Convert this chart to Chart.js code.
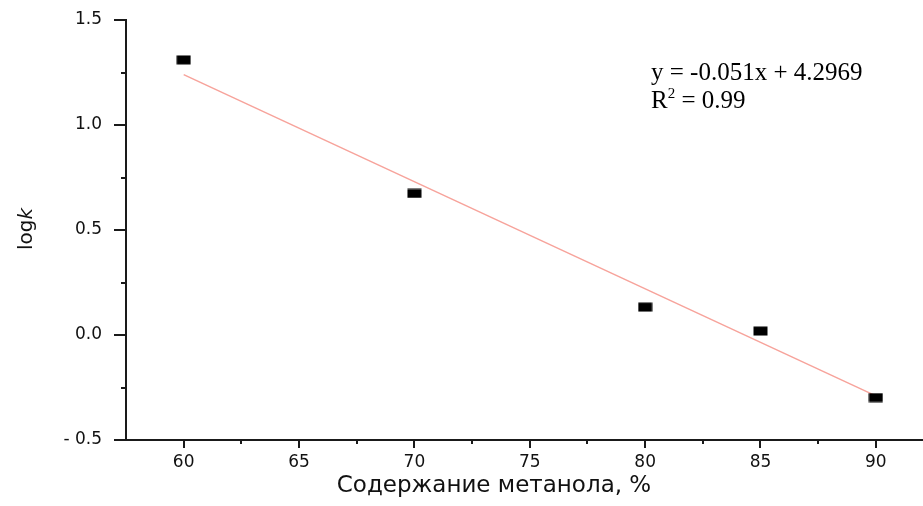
<!DOCTYPE html>
<html lang="ru">
<head>
    <meta charset="UTF-8">
    <title>logk vs methanol</title>
    <script src="https://cdn.jsdelivr.net/npm/chart.js"></script>
    <style>
        html, body { margin: 0; padding: 0; background: #fff; overflow: hidden; }
        #logkChart { display: block; }
    </style>
</head>
<body>
    <canvas id="logkChart" width="923" height="506"></canvas>

    <script>
    // measured points
    const methanol = [60, 70, 80, 85, 90];
    const logk = [1.31, 0.674, 0.133, 0.019, -0.298];

    // linear fit line, ends
    const fitX = [60, 90];
    const fitY = [1.24, -0.29];

    const xMajorTicks = [60, 65, 70, 75, 80, 85, 90];
    const xMinorTicks = [57.5, 62.5, 67.5, 72.5, 77.5, 82.5, 87.5];
    const yMajorTicks = [-0.5, 0.0, 0.5, 1.0, 1.5];
    const yMinorTicks = [-0.25, 0.25, 0.75, 1.25];

    const xTitle = "Содержание метанола, %";
    const equationText = "y = -0.051x + 4.2969";
    const r2Value = "0.99";

    const sansFont = "'DejaVu Sans', 'Liberation Sans', Arial, sans-serif";
    const serifFont = "'Liberation Serif', 'Times New Roman', serif";

    // black rectangle marker
    const marker = document.createElement("canvas");
    marker.width = 15;
    marker.height = 10;
    const mctx = marker.getContext("2d");
    mctx.fillStyle = "#000";
    mctx.fillRect(0.5, 0.5, 14, 9);

    const axisColor = "#1a1a1a";

    // draws outward major/minor ticks, axis titles and the equation text
    const decorPlugin = {
        id: "decor",
        afterDraw(chart) {
            const ctx = chart.ctx;
            const xs = chart.scales.x;
            const ys = chart.scales.y;
            const area = chart.chartArea;
            ctx.save();
            ctx.strokeStyle = axisColor;
            ctx.lineWidth = 2;
            ctx.beginPath();
            xMajorTicks.forEach(v => {
                const px = Math.round(xs.getPixelForValue(v));
                ctx.moveTo(px, area.bottom); ctx.lineTo(px, area.bottom + 8);
            });
            xMinorTicks.forEach(v => {
                if (v <= xs.min) return;
                const px = Math.round(xs.getPixelForValue(v));
                ctx.moveTo(px, area.bottom); ctx.lineTo(px, area.bottom + 4);
            });
            yMajorTicks.forEach(v => {
                const py = Math.round(ys.getPixelForValue(v));
                ctx.moveTo(area.left, py); ctx.lineTo(area.left - 12, py);
            });
            yMinorTicks.forEach(v => {
                const py = Math.round(ys.getPixelForValue(v));
                ctx.moveTo(area.left, py); ctx.lineTo(area.left - 5, py);
            });
            ctx.stroke();

            // x axis title
            ctx.fillStyle = "#111";
            ctx.textAlign = "center";
            ctx.textBaseline = "alphabetic";
            ctx.font = "23px " + sansFont;
            ctx.fillText(xTitle, 494, 492);

            // y axis title: log + italic k
            ctx.translate(32, 229);
            ctx.rotate(-Math.PI / 2);
            ctx.textAlign = "left";
            ctx.font = "20px " + sansFont;
            const w1 = ctx.measureText("log").width;
            ctx.font = "italic 20px " + sansFont;
            const w2 = ctx.measureText("k").width;
            const start = -(w1 + w2) / 2;
            ctx.font = "20px " + sansFont;
            ctx.fillText("log", start, 0);
            ctx.font = "italic 20px " + sansFont;
            ctx.fillText("k", start + w1, 0);
            ctx.restore();

            // equation annotation
            ctx.save();
            ctx.fillStyle = "#000";
            ctx.textAlign = "left";
            ctx.textBaseline = "alphabetic";
            ctx.font = "25px " + serifFont;
            ctx.fillText(equationText, 651, 80);
            ctx.fillText("R", 651, 108);
            const rw = ctx.measureText("R").width;
            ctx.font = "15px " + serifFont;
            ctx.fillText("2", 651 + rw, 98);
            const sw = ctx.measureText("2").width;
            ctx.font = "25px " + serifFont;
            ctx.fillText(" = " + r2Value, 651 + rw + sw, 108);
            ctx.restore();
        }
    };

    // invisible tick marks keep label spacing without adding scale padding
    const hiddenTicks = len => ({
        display: true,
        drawOnChartArea: false,
        drawTicks: true,
        tickLength: len,
        tickColor: "rgba(0,0,0,0)"
    });

    const chartCtx = document.getElementById("logkChart").getContext("2d");
    const logkChart = new Chart(chartCtx, {
        type: "scatter",
        data: {
            datasets: [
                {
                    type: "line",
                    label: "fit",
                    data: fitX.map((x, i) => ({ x, y: fitY[i] })),
                    borderColor: "#f7a39b",
                    borderWidth: 1.5,
                    pointRadius: 0,
                    fill: false,
                    order: 2
                },
                {
                    label: "logk",
                    data: methanol.map((x, i) => ({ x, y: logk[i] })),
                    pointStyle: marker,
                    pointRadius: 7,
                    order: 1
                }
            ]
        },
        plugins: [decorPlugin],
        options: {
            responsive: false,
            animation: false,
            layout: { autoPadding: false, padding: { top: 20, right: 1, left: 0, bottom: 0 } },
            plugins: {
                legend: { display: false },
                tooltip: { enabled: false }
            },
            scales: {
                x: {
                    type: "linear",
                    min: 57.5,
                    max: 92,
                    afterBuildTicks: s => { s.ticks = xMajorTicks.map(v => ({ value: v })); },
                    afterFit: s => { s.height = 66; s.paddingLeft = 0; s.paddingRight = 0; },
                    grid: hiddenTicks(10),
                    border: { display: true, color: axisColor, width: 2 },
                    ticks: {
                        padding: 2,
                        color: "#111",
                        font: { family: sansFont, size: 17 }
                    }
                },
                y: {
                    min: -0.5,
                    max: 1.5,
                    afterBuildTicks: s => { s.ticks = yMajorTicks.map(v => ({ value: v })); },
                    afterFit: s => { s.width = 126; s.paddingTop = 0; s.paddingBottom = 0; },
                    grid: hiddenTicks(22),
                    border: { display: true, color: axisColor, width: 2 },
                    ticks: {
                        padding: 2,
                        color: "#111",
                        font: { family: sansFont, size: 17 },
                        callback: v => v < 0 ? "- " + Math.abs(v).toFixed(1) : v.toFixed(1)
                    }
                }
            }
        }
    });
    </script>
</body>
</html>
